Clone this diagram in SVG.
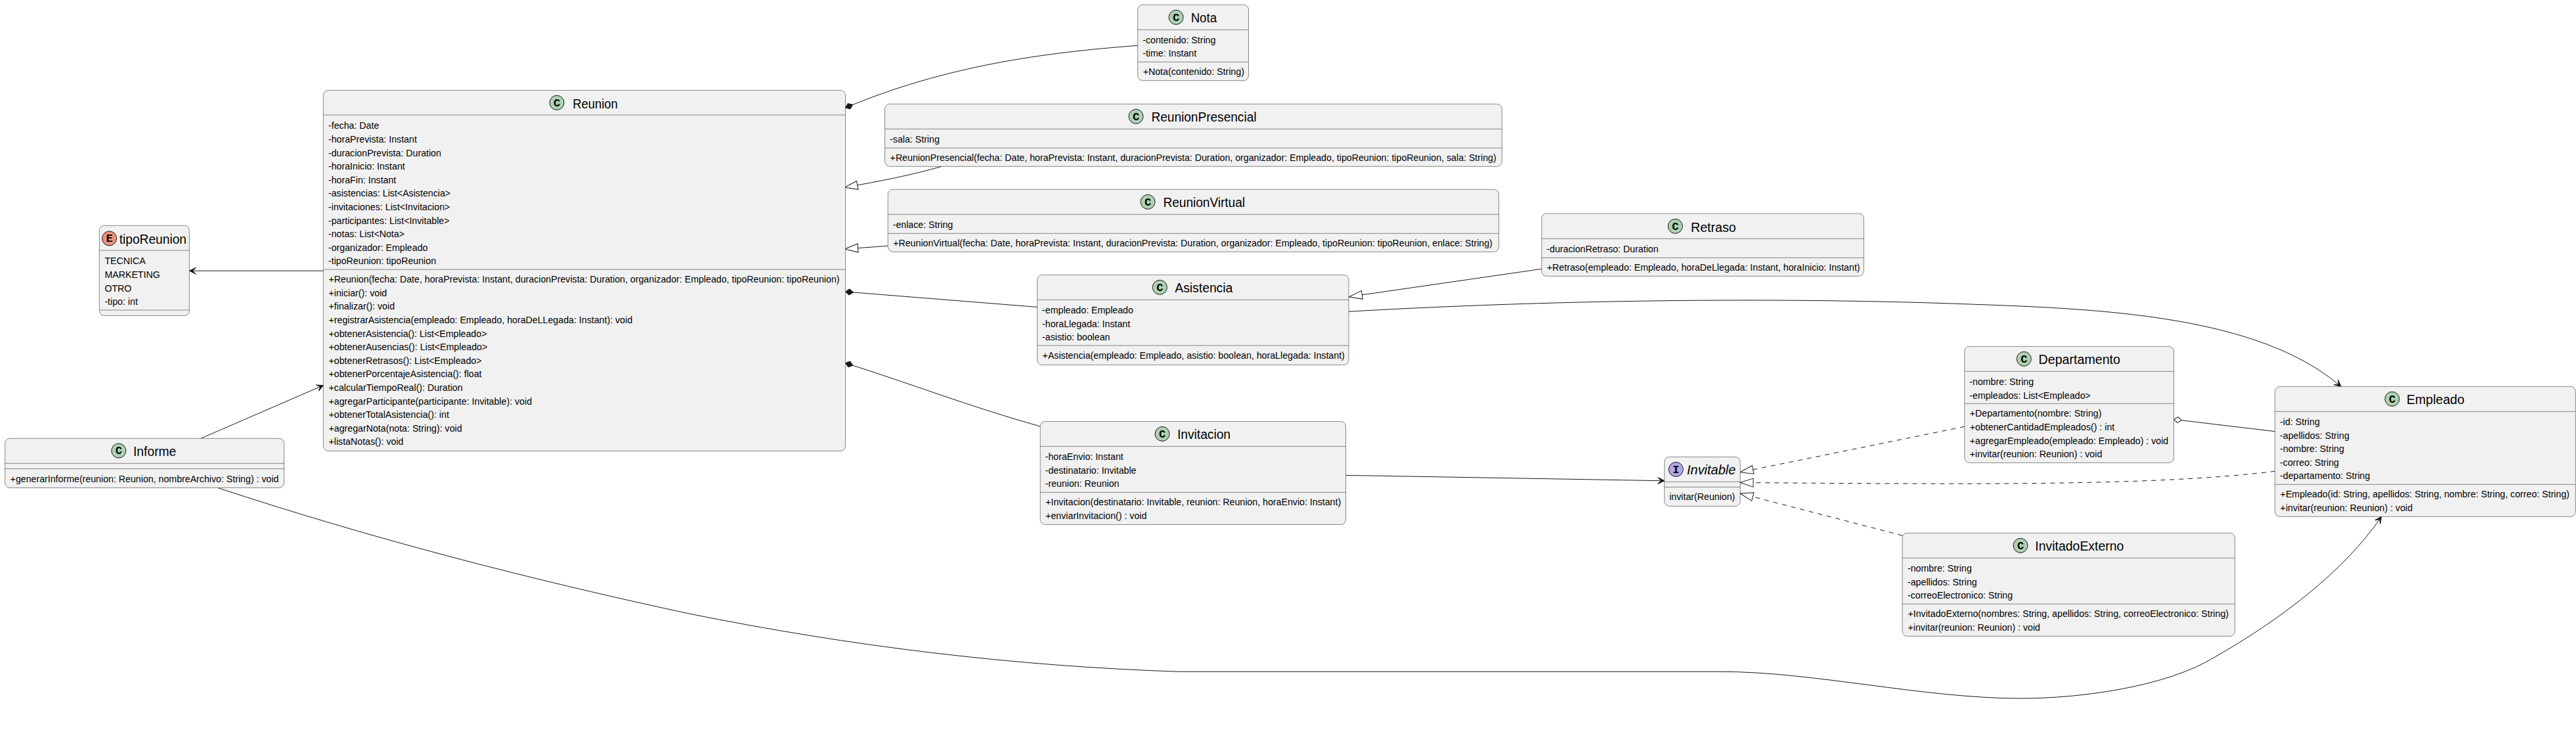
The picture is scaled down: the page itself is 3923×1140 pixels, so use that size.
<svg xmlns="http://www.w3.org/2000/svg" width="3923" height="1140" viewBox="0 0 3923 1140">
<style>
.b{fill:#F1F1F1;stroke:#181818;stroke-width:.5}
.l{stroke:#181818;stroke-width:.5;fill:none}
.m{font-family:"Liberation Sans",Arial,sans-serif;font-size:14.2px;fill:#000}
.t{font-family:"Liberation Sans",Arial,sans-serif;font-size:19.5px;fill:#000}
.i{font-family:"Liberation Mono","DejaVu Sans Mono",monospace;font-size:17px;font-weight:bold;fill:#000;text-anchor:middle}
.c{fill:#ADD1B2;stroke:#181818;stroke-width:1}
.e{fill:#EB937F;stroke:#181818;stroke-width:1}
.f{fill:#B4A7E5;stroke:#181818;stroke-width:1}
.p{fill:none;stroke:#181818;stroke-width:1}
.d{stroke-dasharray:7 7}
</style>
<defs>
<marker id="open" markerUnits="userSpaceOnUse" markerWidth="14" markerHeight="14" viewBox="-12 -7 14 14" refX="0" refY="0" orient="auto"><path d="M0,0L-10,-5L-5,0L-10,5Z" fill="#181818" stroke="#181818" stroke-width="1"/></marker>
<marker id="tri" markerUnits="userSpaceOnUse" markerWidth="24" markerHeight="18" viewBox="-22 -9 24 18" refX="0" refY="0" orient="auto"><path d="M0,0L-20,-6.5L-20,6.5Z" fill="#fff" stroke="#181818" stroke-width="1"/></marker>
<marker id="dia" markerUnits="userSpaceOnUse" markerWidth="16" markerHeight="14" viewBox="-14 -7 16 14" refX="0" refY="0" orient="auto"><path d="M0,0L-6,-4.5L-12,0L-6,4.5Z" fill="#181818" stroke="#181818" stroke-width="1"/></marker>
<marker id="adia" markerUnits="userSpaceOnUse" markerWidth="16" markerHeight="14" viewBox="-14 -7 16 14" refX="0" refY="0" orient="auto"><path d="M0,0L-6,-4.5L-12,0L-6,4.5Z" fill="#fff" stroke="#181818" stroke-width="1"/></marker>
</defs>
<rect width="3923" height="1140" fill="#fff"/>
<g id="connectors">
<path class="p" d="M1732.7,69.3C1590,80 1440,100 1287.5,164" marker-end="url(#dia)"/>
<path class="p" d="M1434,253.3C1390,266 1340,276 1286,285.3" marker-end="url(#tri)"/>
<path class="p" d="M1352,374.3L1286.6,379" marker-end="url(#tri)"/>
<path class="p" d="M1579.6,467.4L1287.5,444" marker-end="url(#dia)"/>
<path class="p" d="M1584.2,649C1480,620 1390,585 1287.5,552.5" marker-end="url(#dia)"/>
<path class="p" d="M492.4,412.2L288.4,412.2" marker-end="url(#open)"/>
<path class="p" d="M305.8,667.3L492.4,586.5" marker-end="url(#open)"/>
<path class="p" d="M331.5,742.4C570,821 808,882 1046,933.3C1296,984 1546,1014 1796,1022.3L2620,1022.3C2760,1022 2930,1063 3077,1063C3170,1063 3300,1045 3373,1000C3470,945 3570,870 3626.6,786.3" marker-end="url(#open)"/>
<path class="p" d="M2054,474.2C2300,460 2650,450 3000,463C3200,470 3440,480 3565,588.3" marker-end="url(#open)"/>
<path class="p" d="M2347.8,409.3L2054.5,451.7" marker-end="url(#tri)"/>
<path class="p" d="M2049.5,723.4L2534.7,731.8" marker-end="url(#open)"/>
<path class="p d" d="M2991.8,649.3L2650,718.8" marker-end="url(#tri)"/>
<path class="p d" d="M3464.6,717.3C3280,740 3000,737 2650,734.5" marker-end="url(#tri)"/>
<path class="p d" d="M2897,815L2650,751" marker-end="url(#tri)"/>
<path class="p" d="M3464.6,656.7L3310.5,638.3" marker-end="url(#adia)"/>
</g>
<g id="tipoReunion">
<rect class="b" x="151.3" y="343.3" width="137.1" height="137.1" rx="7.5"/>
<path class="l" d="M151.3,381H288.4M151.3,472H288.4"/>
<circle class="e" cx="166.5" cy="362.9" r="11"/><text class="i" x="166.5" y="368">E</text>
<text class="t" x="181.7" y="370.7" textLength="102.3" lengthAdjust="spacingAndGlyphs">tipoReunion</text>
<text class="m" x="159.4" y="402.4">TECNICA</text>
<text class="m" x="159.4" y="423">MARKETING</text>
<text class="m" x="159.4" y="443.6">OTRO</text>
<text class="m" x="159.4" y="464.2">-tipo: int</text>
</g>
<g id="Reunion">
<rect class="b" x="492.4" y="137.5" width="795.1" height="549" rx="7.5"/>
<path class="l" d="M492.4,175H1287.5M492.4,410.2H1287.5"/>
<circle class="c" cx="848" cy="156.3" r="11"/><text class="i" x="848" y="161.5">C</text>
<text class="t" x="872.3" y="164.7" textLength="68.3" lengthAdjust="spacingAndGlyphs">Reunion</text>
<text class="m" x="500" y="196.3">-fecha: Date</text>
<text class="m" x="500" y="216.9">-horaPrevista: Instant</text>
<text class="m" x="500" y="237.5">-duracionPrevista: Duration</text>
<text class="m" x="500" y="258.1">-horaInicio: Instant</text>
<text class="m" x="500" y="278.7">-horaFin: Instant</text>
<text class="m" x="500" y="299.3">-asistencias: List&lt;Asistencia&gt;</text>
<text class="m" x="500" y="319.9">-invitaciones: List&lt;Invitacion&gt;</text>
<text class="m" x="500" y="340.5">-participantes: List&lt;Invitable&gt;</text>
<text class="m" x="500" y="361.1">-notas: List&lt;Nota&gt;</text>
<text class="m" x="500" y="381.7">-organizador: Empleado</text>
<text class="m" x="500" y="402.3">-tipoReunion: tipoReunion</text>
<text class="m" x="500.5" y="430.2">+Reunion(fecha: Date, horaPrevista: Instant, duracionPrevista: Duration, organizador: Empleado, tipoReunion: tipoReunion)</text>
<text class="m" x="500.5" y="450.8">+iniciar(): void</text>
<text class="m" x="500.5" y="471.4">+finalizar(): void</text>
<text class="m" x="500.5" y="492">+registrarAsistencia(empleado: Empleado, horaDeLLegada: Instant): void</text>
<text class="m" x="500.5" y="512.6">+obtenerAsistencia(): List&lt;Empleado&gt;</text>
<text class="m" x="500.5" y="533.2">+obtenerAusencias(): List&lt;Empleado&gt;</text>
<text class="m" x="500.5" y="553.8">+obtenerRetrasos(): List&lt;Empleado&gt;</text>
<text class="m" x="500.5" y="574.4">+obtenerPorcentajeAsistencia(): float</text>
<text class="m" x="500.5" y="595">+calcularTiempoReal(): Duration</text>
<text class="m" x="500.5" y="615.6">+agregarParticipante(participante: Invitable): void</text>
<text class="m" x="500.5" y="636.2">+obtenerTotalAsistencia(): int</text>
<text class="m" x="500.5" y="656.8">+agregarNota(nota: String): void</text>
<text class="m" x="500.5" y="677.4">+listaNotas(): void</text>
</g>
<g id="Informe">
<rect class="b" x="7.6" y="667.3" width="425" height="75.1" rx="7.5"/>
<path class="l" d="M7.6,705.3H432.6M7.6,713.5H432.6"/>
<circle class="c" cx="180.8" cy="686" r="11"/><text class="i" x="180.8" y="691.2">C</text>
<text class="t" x="203" y="693.5" textLength="65.3" lengthAdjust="spacingAndGlyphs">Informe</text>
<text class="m" x="15.6" y="734">+generarInforme(reunion: Reunion, nombreArchivo: String) : void</text>
</g>
<g id="Nota">
<rect class="b" x="1732.7" y="7.3" width="168.8" height="115.4" rx="7.5"/>
<path class="l" d="M1732.7,45.3H1901.5M1732.7,94.3H1901.5"/>
<circle class="c" cx="1791" cy="26.3" r="11"/><text class="i" x="1791" y="31.5">C</text>
<text class="t" x="1813.7" y="34" textLength="39.3" lengthAdjust="spacingAndGlyphs">Nota</text>
<text class="m" x="1740.2" y="65.6">-contenido: String</text>
<text class="m" x="1740.2" y="86">-time: Instant</text>
<text class="m" x="1740.7" y="114">+Nota(contenido: String)</text>
</g>
<g id="ReunionPresencial">
<rect class="b" x="1347.6" y="158.3" width="939.7" height="95" rx="7.5"/>
<path class="l" d="M1347.6,196.3H2287.3M1347.6,225.3H2287.3"/>
<circle class="c" cx="1730" cy="177.3" r="11"/><text class="i" x="1730" y="182.5">C</text>
<text class="t" x="1753.4" y="185" textLength="160.1" lengthAdjust="spacingAndGlyphs">ReunionPresencial</text>
<text class="m" x="1355.1" y="217">-sala: String</text>
<text class="m" x="1355.6" y="245">+ReunionPresencial(fecha: Date, horaPrevista: Instant, duracionPrevista: Duration, organizador: Empleado, tipoReunion: tipoReunion, sala: String)</text>
</g>
<g id="ReunionVirtual">
<rect class="b" x="1352.2" y="288.3" width="930.4" height="95" rx="7.5"/>
<path class="l" d="M1352.2,326.3H2282.6M1352.2,355.3H2282.6"/>
<circle class="c" cx="1748" cy="307.3" r="11"/><text class="i" x="1748" y="312.5">C</text>
<text class="t" x="1771.5" y="315" textLength="124.5" lengthAdjust="spacingAndGlyphs">ReunionVirtual</text>
<text class="m" x="1359.7" y="347">-enlace: String</text>
<text class="m" x="1360.2" y="375">+ReunionVirtual(fecha: Date, horaPrevista: Instant, duracionPrevista: Duration, organizador: Empleado, tipoReunion: tipoReunion, enlace: String)</text>
</g>
<g id="Asistencia">
<rect class="b" x="1579.6" y="418.4" width="474.4" height="137" rx="7.5"/>
<path class="l" d="M1579.6,456.3H2054M1579.6,525.9H2054"/>
<circle class="c" cx="1766.3" cy="437.3" r="11"/><text class="i" x="1766.3" y="442.5">C</text>
<text class="t" x="1789.3" y="445" textLength="88" lengthAdjust="spacingAndGlyphs">Asistencia</text>
<text class="m" x="1587.1" y="477">-empleado: Empleado</text>
<text class="m" x="1587.1" y="497.6">-horaLlegada: Instant</text>
<text class="m" x="1587.1" y="518.2">-asistio: boolean</text>
<text class="m" x="1587.6" y="546">+Asistencia(empleado: Empleado, asistio: boolean, horaLlegada: Instant)</text>
</g>
<g id="Invitacion">
<rect class="b" x="1584.2" y="641.5" width="465.3" height="156.9" rx="7.5"/>
<path class="l" d="M1584.2,679.4H2049.5M1584.2,749.4H2049.5"/>
<circle class="c" cx="1770" cy="660.4" r="11"/><text class="i" x="1770" y="665.6">C</text>
<text class="t" x="1793" y="668" textLength="81" lengthAdjust="spacingAndGlyphs">Invitacion</text>
<text class="m" x="1591.7" y="700">-horaEnvio: Instant</text>
<text class="m" x="1591.7" y="720.6">-destinatario: Invitable</text>
<text class="m" x="1591.7" y="741.2">-reunion: Reunion</text>
<text class="m" x="1592.2" y="769.4">+Invitacion(destinatario: Invitable, reunion: Reunion, horaEnvio: Instant)</text>
<text class="m" x="1592.2" y="790">+enviarInvitacion() : void</text>
</g>
<g id="Invitable">
<rect class="b" x="2534.7" y="695.4" width="115.5" height="75" rx="7.5"/>
<path class="l" d="M2534.7,733.3H2650.2M2534.7,741.4H2650.2"/>
<circle class="f" cx="2552.3" cy="714.4" r="11"/><text class="i" x="2552.3" y="719.6">I</text>
<text class="t" x="2569" y="722" textLength="74.3" lengthAdjust="spacingAndGlyphs" font-style="italic">Invitable</text>
<text class="m" x="2542.2" y="761.4">invitar(Reunion)</text>
</g>
<g id="Retraso">
<rect class="b" x="2347.8" y="325" width="490.6" height="95.3" rx="7.5"/>
<path class="l" d="M2347.8,363.3H2838.4M2347.8,392.3H2838.4"/>
<circle class="c" cx="2551.3" cy="344.3" r="11"/><text class="i" x="2551.3" y="349.5">C</text>
<text class="t" x="2575" y="352.5" textLength="68.8" lengthAdjust="spacingAndGlyphs">Retraso</text>
<text class="m" x="2355.3" y="384.1">-duracionRetraso: Duration</text>
<text class="m" x="2355.8" y="412.2">+Retraso(empleado: Empleado, horaDeLlegada: Instant, horaInicio: Instant)</text>
</g>
<g id="Departamento">
<rect class="b" x="2991.8" y="527.3" width="318.7" height="177" rx="7.5"/>
<path class="l" d="M2991.8,565.3H3310.5M2991.8,614.3H3310.5"/>
<circle class="c" cx="3082.3" cy="546.3" r="11"/><text class="i" x="3082.3" y="551.5">C</text>
<text class="t" x="3104.6" y="554" textLength="124.4" lengthAdjust="spacingAndGlyphs">Departamento</text>
<text class="m" x="2999.3" y="586">-nombre: String</text>
<text class="m" x="2999.3" y="606.6">-empleados: List&lt;Empleado&gt;</text>
<text class="m" x="2999.8" y="634.3">+Departamento(nombre: String)</text>
<text class="m" x="2999.8" y="654.9">+obtenerCantidadEmpleados() : int</text>
<text class="m" x="2999.8" y="675.5">+agregarEmpleado(empleado: Empleado) : void</text>
<text class="m" x="2999.8" y="696.1">+invitar(reunion: Reunion) : void</text>
</g>
<g id="Empleado">
<rect class="b" x="3464.6" y="588.3" width="457.7" height="198" rx="7.5"/>
<path class="l" d="M3464.6,626.3H3922.3M3464.6,737.3H3922.3"/>
<circle class="c" cx="3643" cy="607.3" r="11"/><text class="i" x="3643" y="612.5">C</text>
<text class="t" x="3665" y="615" textLength="88" lengthAdjust="spacingAndGlyphs">Empleado</text>
<text class="m" x="3472.1" y="647">-id: String</text>
<text class="m" x="3472.1" y="667.6">-apellidos: String</text>
<text class="m" x="3472.1" y="688.2">-nombre: String</text>
<text class="m" x="3472.1" y="708.8">-correo: String</text>
<text class="m" x="3472.1" y="729.4">-departamento: String</text>
<text class="m" x="3472.6" y="757.3">+Empleado(id: String, apellidos: String, nombre: String, correo: String)</text>
<text class="m" x="3472.6" y="777.9">+invitar(reunion: Reunion) : void</text>
</g>
<g id="InvitadoExterno">
<rect class="b" x="2897" y="811.3" width="506.6" height="157" rx="7.5"/>
<path class="l" d="M2897,849.3H3403.6M2897,919.3H3403.6"/>
<circle class="c" cx="3077" cy="830.3" r="11"/><text class="i" x="3077" y="835.5">C</text>
<text class="t" x="3099.3" y="838" textLength="135.1" lengthAdjust="spacingAndGlyphs">InvitadoExterno</text>
<text class="m" x="2905" y="870">-nombre: String</text>
<text class="m" x="2905" y="890.6">-apellidos: String</text>
<text class="m" x="2905" y="911.2">-correoElectronico: String</text>
<text class="m" x="2905.5" y="939.3">+InvitadoExterno(nombres: String, apellidos: String, correoElectronico: String)</text>
<text class="m" x="2905.5" y="959.9">+invitar(reunion: Reunion) : void</text>
</g>
</svg>
